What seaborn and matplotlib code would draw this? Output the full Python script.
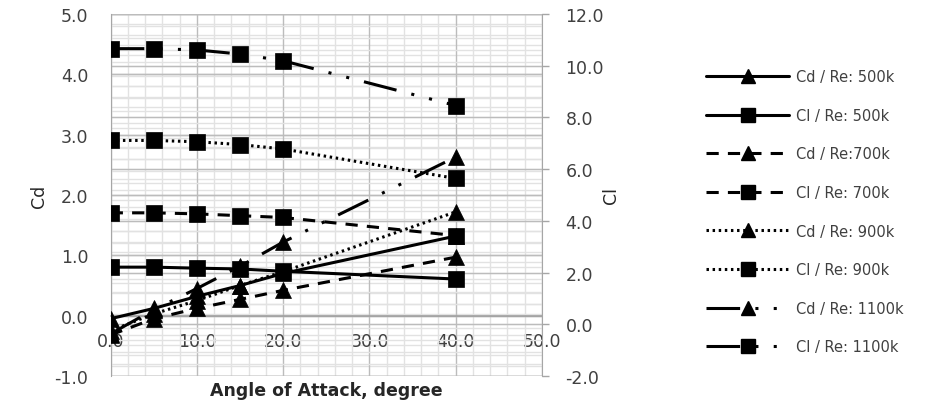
import numpy as np
import pandas as pd
import matplotlib
matplotlib.use("Agg")
import matplotlib.pyplot as plt
import matplotlib.transforms as mtransforms
from matplotlib.lines import Line2D
from matplotlib.ticker import MultipleLocator, FormatStrFormatter
import seaborn as sns

# ---------------- data ----------------
angles = [0, 5, 10, 15, 20, 40]

cd_500 = [-0.05, 0.12, 0.32, 0.50, 0.70, 1.32]
cd_700 = [-0.32, -0.05, 0.12, 0.27, 0.42, 0.97]
cd_900 = [-0.25, 0.03, 0.25, 0.50, 0.73, 1.72]
cd_1100 = [-0.30, 0.10, 0.45, 0.82, 1.22, 2.63]

cl_500 = [2.21, 2.21, 2.17, 2.14, 2.05, 1.75]
cl_700 = [4.31, 4.31, 4.27, 4.20, 4.13, 3.43]
cl_900 = [7.11, 7.11, 7.06, 6.95, 6.78, 5.64]
cl_1100 = [10.66, 10.66, 10.61, 10.45, 10.19, 8.46]

legend_labels = ["Cd / Re: 500k", "Cl / Re: 500k", "Cd / Re:700k", "Cl / Re: 700k",
                 "Cd / Re: 900k", "Cl / Re: 900k", "Cd / Re: 1100k", "Cl / Re: 1100k"]

x_label = "Angle of Attack, degree"
left_label = "Cd"
right_label = "Cl"

# ---------------- style ----------------
sns.set_style("white")
plt.rcParams["font.family"] = ["DejaVu Sans"]

LW = 2.2
MS_T = 12
MS_S = 11.5
styles = {
    "500": "-",
    "700": (0, (4, 3)),
    "900": (0, (0.8, 1.2)),
    "1100": (0, (11, 5, 1, 5, 1, 5)),
}

fig = plt.figure(figsize=(9.37, 4.14), dpi=100)
ax1 = fig.add_axes([110.7 / 937, 1 - 377 / 414, (542 - 110.7) / 937, (377 - 15) / 414])
ax2 = ax1.twinx()

ax1.set_xlim(0, 50)
ax1.set_ylim(-1, 5)
ax2.set_ylim(-2, 12)

MAJ = "#bcbcbc"
MIN = "#e2e2e2"

# gridlines (all drawn on ax1, below data)
ax1.xaxis.set_major_locator(MultipleLocator(10))
ax1.xaxis.set_minor_locator(MultipleLocator(2))
ax1.yaxis.set_major_locator(MultipleLocator(1))
ax1.yaxis.set_minor_locator(MultipleLocator(0.2))
ax1.grid(True, which="major", color=MAJ, lw=1.0, zorder=0)
ax1.grid(True, which="minor", color=MIN, lw=1.0, zorder=0)
ax1.set_axisbelow(True)
blend = mtransforms.blended_transform_factory(ax1.transAxes, ax2.transData)
ax1.hlines(np.arange(-2, 12.01, 0.4), 0, 1, transform=blend, color=MIN, lw=1.0, zorder=0.5)
ax1.hlines(np.arange(-2, 12.01, 2), 0, 1, transform=blend, color=MAJ, lw=1.0, zorder=0.6)
ax1.hlines(np.arange(-1, 5.01, 1), 0, 1, transform=ax1.get_yaxis_transform(), color=MAJ, lw=1.0, zorder=0.6)

# Cd series (primary axis, triangles)
for vals, key in [(cd_500, "500"), (cd_700, "700"), (cd_900, "900"), (cd_1100, "1100")]:
    sns.lineplot(x=angles, y=vals, ax=ax1, color="black", lw=LW, linestyle=styles[key],
                 marker="^", markersize=MS_T, markeredgecolor="black", markerfacecolor="black",
                 markeredgewidth=0.5, zorder=3)

# Cl series (secondary axis, squares)
for vals, key in [(cl_500, "500"), (cl_700, "700"), (cl_900, "900"), (cl_1100, "1100")]:
    sns.lineplot(x=angles, y=vals, ax=ax2, color="black", lw=LW, linestyle=styles[key],
                 marker="s", markersize=MS_S, markeredgecolor="black", markerfacecolor="black",
                 markeredgewidth=0.5, zorder=3)

# axes formatting
for a in (ax1, ax2):
    for s in a.spines.values():
        s.set_visible(False)

ax1.spines["left"].set_visible(True)
ax1.spines["left"].set_color("#a6a6a6")
ax1.spines["bottom"].set_visible(True)
ax1.spines["bottom"].set_position(("data", 0))
ax1.spines["bottom"].set_color("#a0a0a0")
ax1.spines["bottom"].set_linewidth(1.2)
ax2.spines["right"].set_visible(True)
ax2.spines["right"].set_color("#a6a6a6")

ax1.xaxis.set_major_formatter(FormatStrFormatter("%.1f"))
ax1.yaxis.set_major_formatter(FormatStrFormatter("%.1f"))
ax2.yaxis.set_major_locator(MultipleLocator(2))
ax2.yaxis.set_major_formatter(FormatStrFormatter("%.1f"))

FS = 12.5
ax1.tick_params(axis="x", which="both", length=0, pad=12, labelsize=FS, colors="#404040")
ax1.tick_params(axis="y", which="both", length=0, pad=16, labelsize=FS, colors="#404040")
ax2.tick_params(axis="y", which="major", length=5, width=1, color="#a6a6a6",
                direction="out", pad=12, labelsize=FS, labelcolor="#404040")
ax2.tick_params(axis="y", which="minor", length=0)

ax1.set_xlabel(x_label, fontsize=FS, fontweight="bold", color="#262626")
ax1.xaxis.set_label_coords(0.5, -0.015)
ax1.set_ylabel(left_label, fontsize=FS, color="#262626")
ax1.yaxis.set_label_coords(-0.145, 0.5)
ax2.set_ylabel(right_label, fontsize=FS, color="#262626", rotation=90)
ax2.yaxis.set_label_coords(1.14, 0.5)

# legend
handles = []
for key in ["500", "700", "900", "1100"]:
    handles.append(Line2D([], [], color="black", lw=LW, linestyle=styles[key], marker="^",
                          markersize=MS_T * 0.85))
    handles.append(Line2D([], [], color="black", lw=LW, linestyle=styles[key], marker="s",
                          markersize=MS_S * 0.85))
fig.legend(handles, legend_labels, loc="upper left", bbox_to_anchor=(706 / 937, 1 - 70 / 414),
           frameon=False, fontsize=10.5, handlelength=5.7, handletextpad=0.5,
           labelspacing=1.62, numpoints=1, borderaxespad=0, borderpad=0, labelcolor="#404040")

fig.savefig("out.png", dpi=100)
